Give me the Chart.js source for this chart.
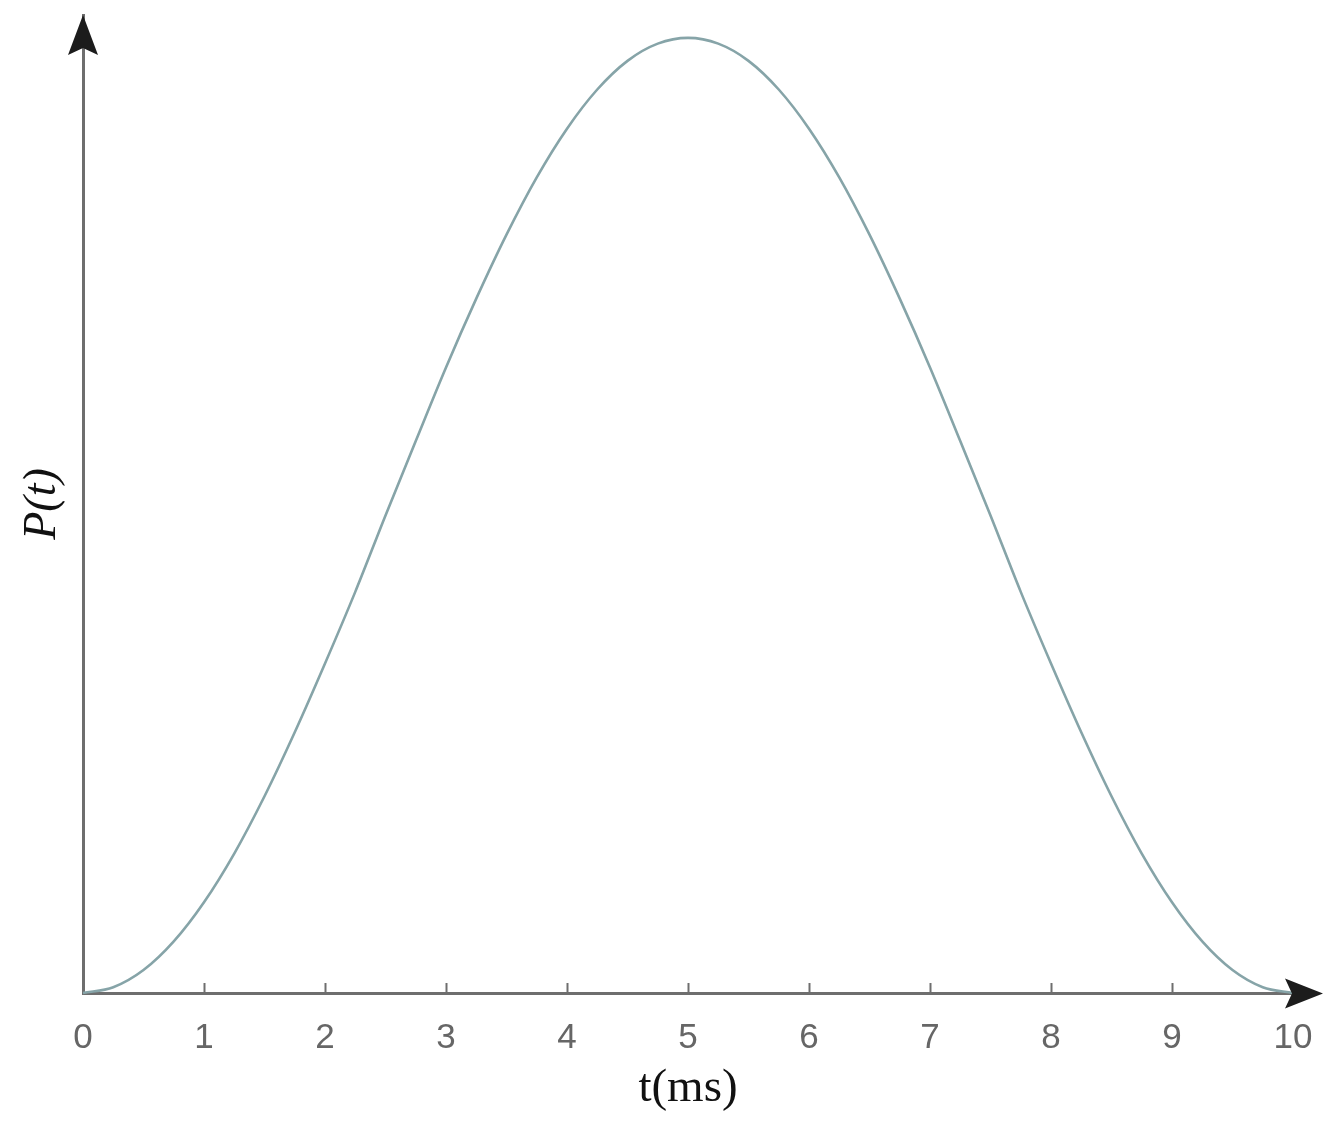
<!DOCTYPE html>
<html><head><meta charset="utf-8">
<script src="https://cdn.jsdelivr.net/npm/chart.js@4/dist/chart.umd.min.js"></script>
<style>html,body{margin:0;padding:0;background:#fff}#wrap{width:1344px;height:1134px;position:relative}</style>
</head><body><div id="wrap"><canvas id="c"></canvas></div>
<script>
// time (ms)
const tValues = [0,0.25,0.5,0.75,1,1.25,1.5,1.75,2,2.25,2.5,2.75,3,3.25,3.5,3.75,4,4.25,4.5,4.75,5,
  5.25,5.5,5.75,6,6.25,6.5,6.75,7,7.25,7.5,7.75,8,8.25,8.5,8.75,9,9.25,9.5,9.75,10];
// P(t), normalised to the peak
const pValues = [0,0.006,0.024,0.054,0.095,0.146,0.206,0.273,0.345,0.42,0.50,0.578,0.655,0.727,0.794,0.854,0.905,0.946,0.976,0.994,1.0,
  0.994,0.976,0.946,0.905,0.854,0.794,0.727,0.655,0.578,0.50,0.42,0.345,0.273,0.206,0.146,0.095,0.054,0.024,0.006,0];
const xTickValues = [0,1,2,3,4,5,6,7,8,9,10];
const xTitle = 't(ms)';
const yTitle = 'P(t)';

const AXIS = '#6e6e6e';
const ARROW = '#1c1c1c';

const decor = {
  id: 'decor',
  afterDraw(chart) {
    const {ctx, chartArea: a, scales} = chart;
    ctx.save();
    // extension of the x axis beyond t = 10
    const tipX = a.right + 30;
    ctx.strokeStyle = AXIS; ctx.lineWidth = 3;
    ctx.beginPath(); ctx.moveTo(a.right - 1, a.bottom + 0.5); ctx.lineTo(tipX - 20, a.bottom + 0.5); ctx.stroke();
    // small tick marks pointing up
    ctx.lineWidth = 2;
    xTickValues.forEach(v => {
      if (v === 0) return;
      const px = Math.round(scales.x.getPixelForValue(v)) + 0.5;
      ctx.beginPath(); ctx.moveTo(px, a.bottom); ctx.lineTo(px, a.bottom - 10); ctx.stroke();
    });
    ctx.fillStyle = ARROW;
    // y arrow
    const yx = a.left;
    ctx.beginPath();
    ctx.moveTo(yx, a.top); ctx.lineTo(yx - 15, a.top + 40); ctx.lineTo(yx, a.top + 33); ctx.lineTo(yx + 15, a.top + 40);
    ctx.closePath(); ctx.fill();
    // x arrow
    const xy = a.bottom + 0.5;
    ctx.beginPath();
    ctx.moveTo(tipX, xy); ctx.lineTo(tipX - 38, xy - 15); ctx.lineTo(tipX - 31, xy); ctx.lineTo(tipX - 38, xy + 15);
    ctx.closePath(); ctx.fill();
    ctx.restore();
  }
};

new Chart(document.getElementById('c'), {
  type: 'line',
  data: {
    datasets: [{
      data: tValues.map((t, i) => ({x: t, y: pValues[i]})),
      borderColor: '#86a4a8',
      borderWidth: 2.6,
      pointRadius: 0,
      cubicInterpolationMode: 'monotone',
      fill: false
    }]
  },
  options: {
    responsive: true,
    maintainAspectRatio: false,
    animation: false,
    clip: false,
    layout: {padding: {top: 15, right: 51, left: 0, bottom: 0}},
    plugins: {legend: {display: false}, tooltip: {enabled: false}},
    scales: {
      x: {
        type: 'linear', min: 0, max: 10,
        afterBuildTicks: s => { s.ticks = xTickValues.map(v => ({value: v})); },
        afterFit: s => { s.height = 141; },
        grid: {display: false, drawTicks: false},
        border: {display: true, color: AXIS, width: 3},
        ticks: {autoSkip: false, maxRotation: 0, padding: 24, color: '#666666',
                font: {family: 'Liberation Sans', size: 35}},
        title: {display: true, text: xTitle, color: '#111',
                font: {family: 'Liberation Serif', size: 47}, padding: {top: 0, bottom: 17}}
      },
      y: {
        min: 0, max: 1.024,
        afterFit: s => { s.width = 83; },
        grid: {display: false, drawTicks: false},
        border: {display: true, color: AXIS, width: 3},
        ticks: {display: false},
        title: {display: true, text: yTitle, color: '#111',
                font: {family: 'Liberation Serif', style: 'italic', size: 46}, padding: {top: 15, bottom: 0}}
      }
    }
  },
  plugins: [decor]
});
</script>
</body></html>
